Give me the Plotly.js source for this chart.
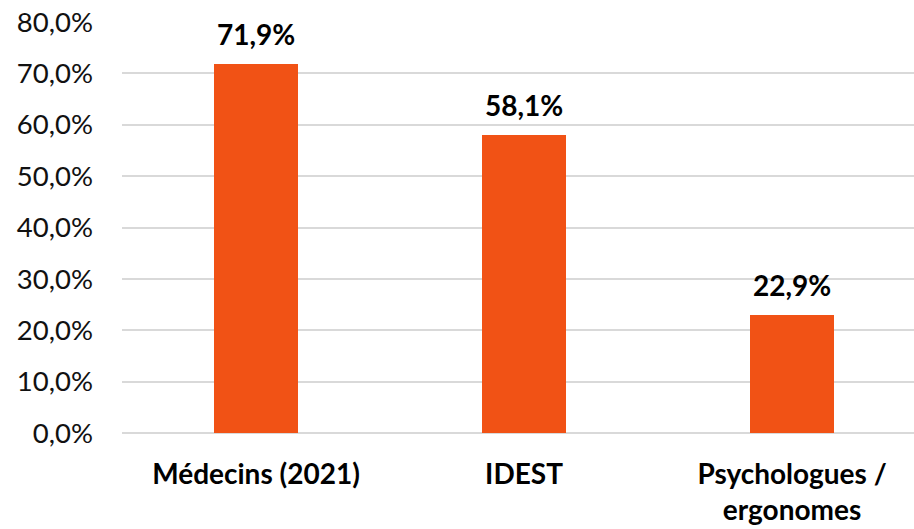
<!DOCTYPE html>
<html>
<head>
<meta charset="utf-8">
<script src="https://cdn.plot.ly/plotly-3.0.1.min.js"></script>
<style>html,body{margin:0;padding:0;background:#fff;}#chart{width:914px;height:529px;}</style>
</head>
<body>
<div id="chart"></div>
<script>
var categories = ["Médecins (2021)", "IDEST", "Psychologues /<br>ergonomes"];
var values = [71.9, 58.1, 22.9];
var valueLabels = ["71,9%", "58,1%", "22,9%"];
var yTickValues = [0, 10, 20, 30, 40, 50, 60, 70, 80];
var yTickLabels = ["0,0%", "10,0%", "20,0%", "30,0%", "40,0%", "50,0%", "60,0%", "70,0%", "80,0%"];

var FONT = "Lato, 'Open Sans', sans-serif";

var trace = {
  type: "bar",
  x: [0, 1, 2],
  y: values,
  width: 0.313,
  marker: {color: "#F15215"},
  hoverinfo: "none"
};

var annotations = values.map(function (v, i) {
  return {
    x: i, y: v, xref: "x", yref: "y",
    text: "<b>" + valueLabels[i] + "</b>",
    showarrow: false,
    yanchor: "bottom",
    yshift: 11,
    font: {family: FONT, size: 28, color: "#000"}
  };
});

var layout = {
  width: 914, height: 529,
  margin: {l: 122, r: 0, t: 22, b: 96, pad: 0},
  paper_bgcolor: "#fff", plot_bgcolor: "#fff",
  showlegend: false,
  bargap: 0,
  xaxis: {
    range: [-0.5, 2.455],
    tickmode: "array",
    tickvals: [0, 1, 2],
    ticktext: categories.map(function (c) { return "<b>" + c + "</b>"; }),
    showgrid: false, zeroline: false, showline: false,
    ticks: "",
    ticklabelstandoff: 22,
    tickfont: {family: FONT, size: 28, color: "#000"},
    fixedrange: true
  },
  yaxis: {
    range: [0, 80],
    tickmode: "array",
    tickvals: yTickValues,
    ticktext: yTickLabels,
    showgrid: true, gridcolor: "#d9d9d9", gridwidth: 2,
    zeroline: true, zerolinecolor: "#d9d9d9", zerolinewidth: 2,
    showline: false, ticks: "",
    ticklabelstandoff: 28,
    tickfont: {family: FONT, size: 27.5, color: "#111"},
    fixedrange: true
  },
  annotations: annotations
};

Plotly.newPlot("chart", [trace], layout, {displayModeBar: false, staticPlot: true});
</script>
</body>
</html>
